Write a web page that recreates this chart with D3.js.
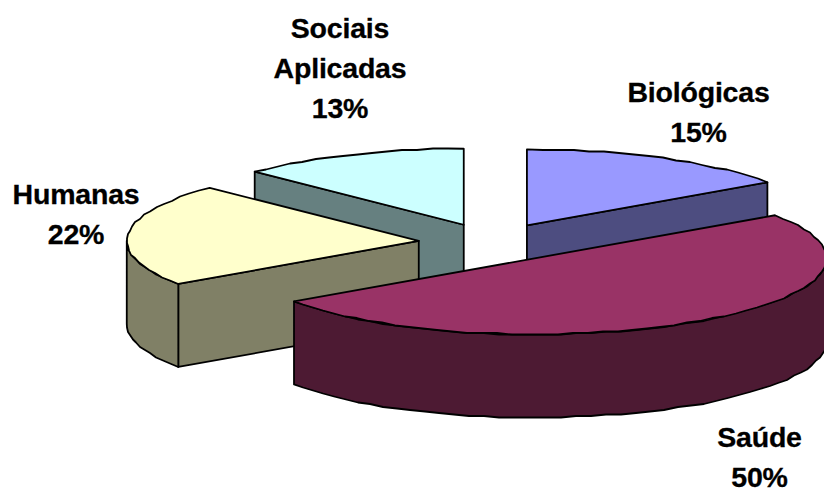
<!DOCTYPE html>
<html>
<head>
<meta charset="utf-8">
<script src="https://cdn.jsdelivr.net/npm/d3@7/dist/d3.min.js"></script>
<style>
html,body{margin:0;padding:0;background:#fff;overflow:hidden}
svg{display:block}
text{font-family:"Liberation Sans",Arial,sans-serif;font-weight:bold;font-size:28.5px;letter-spacing:-0.2px;fill:#000;stroke:#000;stroke-width:0.3px;text-anchor:middle}
</style>
</head>
<body>
<svg width="824" height="488"></svg>
<script>
const categories = ["Biológicas", "Saúde", "Humanas", "Sociais Aplicadas"];
const values = [15.4, 50, 21.9, 12.7];
const topColors = ["#9999FF", "#993366", "#FFFFCC", "#CCFFFF"];
const sideColors = ["#4D4D80", "#4D1A33", "#808066", "#668080"];
const labelLines = [["Biológicas"], ["Saúde"], ["Humanas"], ["Sociais", "Aplicadas"]];
const labelAnchors = [[698.5, 101.5], [759.5, 447], [76, 203.5], [340, 37.5]];
const paintOrder = [3, 0, 2, 1];

const W = 824, H = 488;
const cx = 492.5, cy = 242.5, rx = 292, ry = 76, depth = 83, explode = 74;
const svg = d3.select("svg");

const pie = d3.pie().sort(null).value(d => d).startAngle(0).endAngle(2 * Math.PI);
const slices = pie(values);
const total = d3.sum(values);

const X = a => Math.sin(a), Y = a => -Math.cos(a);
const snap = (v, g) => Math.round(v / g) * g;

function rim(a0, a1, c, dz) {
  const n = Math.max(1, Math.round((a1 - a0) / (3 * Math.PI / 180)));
  const pts = [];
  for (let i = 0; i <= n; i++) {
    const a = a0 + (a1 - a0) * i / n;
    const x = c[0] + rx * X(a), y = c[1] + ry * Y(a);
    if (i === 0 || i === n) pts.push([x, y + dz]);
    else pts.push([snap(x, 1), snap(y, 1.5) + dz]);
  }
  return pts;
}
const line = d3.line();
const poly = pts => line(pts) + "Z";
const g = svg.append("g").attr("stroke", "#000").attr("stroke-width", 1.8).attr("stroke-linejoin", "round");

paintOrder.forEach(i => {
  const s = slices[i];
  const mid = (s.startAngle + s.endAngle) / 2;
  const c = [cx + explode * X(mid), cy + explode * (ry / rx) * Y(mid)];
  const a0 = s.startAngle, a1 = s.endAngle;
  const radial = a => {
    const e = [c[0] + rx * X(a), c[1] + ry * Y(a)];
    return [c, e, [e[0], e[1] + depth], [c[0], c[1] + depth]];
  };
  // cut faces whose outward normal points to the viewer
  if (Math.cos(a0 - Math.PI / 2) < -1e-6)
    g.append("path").attr("d", poly(radial(a0))).attr("fill", sideColors[i]);
  if (Math.cos(a1 + Math.PI / 2) < -1e-6)
    g.append("path").attr("d", poly(radial(a1))).attr("fill", sideColors[i]);
  // outer wall on the front half
  const w0 = Math.max(a0, Math.PI / 2), w1 = Math.min(a1, 3 * Math.PI / 2);
  if (w1 > w0) {
    const up = rim(w0, w1, c, 0), down = rim(w0, w1, c, depth).reverse();
    g.append("path").attr("d", poly(up.concat(down))).attr("fill", sideColors[i]);
  }
  // top face
  g.append("path").attr("d", poly([c].concat(rim(a0, a1, c, 0)))).attr("fill", topColors[i]);
});

const lh = 40;
slices.forEach((s, i) => {
  const t = svg.append("text");
  const lines = labelLines[i].concat([Math.round(s.value / total * 100) + "%"]);
  lines.forEach((l, k) => {
    t.append("tspan").attr("x", labelAnchors[i][0]).attr("y", labelAnchors[i][1] + k * lh).text(l);
  });
});
</script>
</body>
</html>
